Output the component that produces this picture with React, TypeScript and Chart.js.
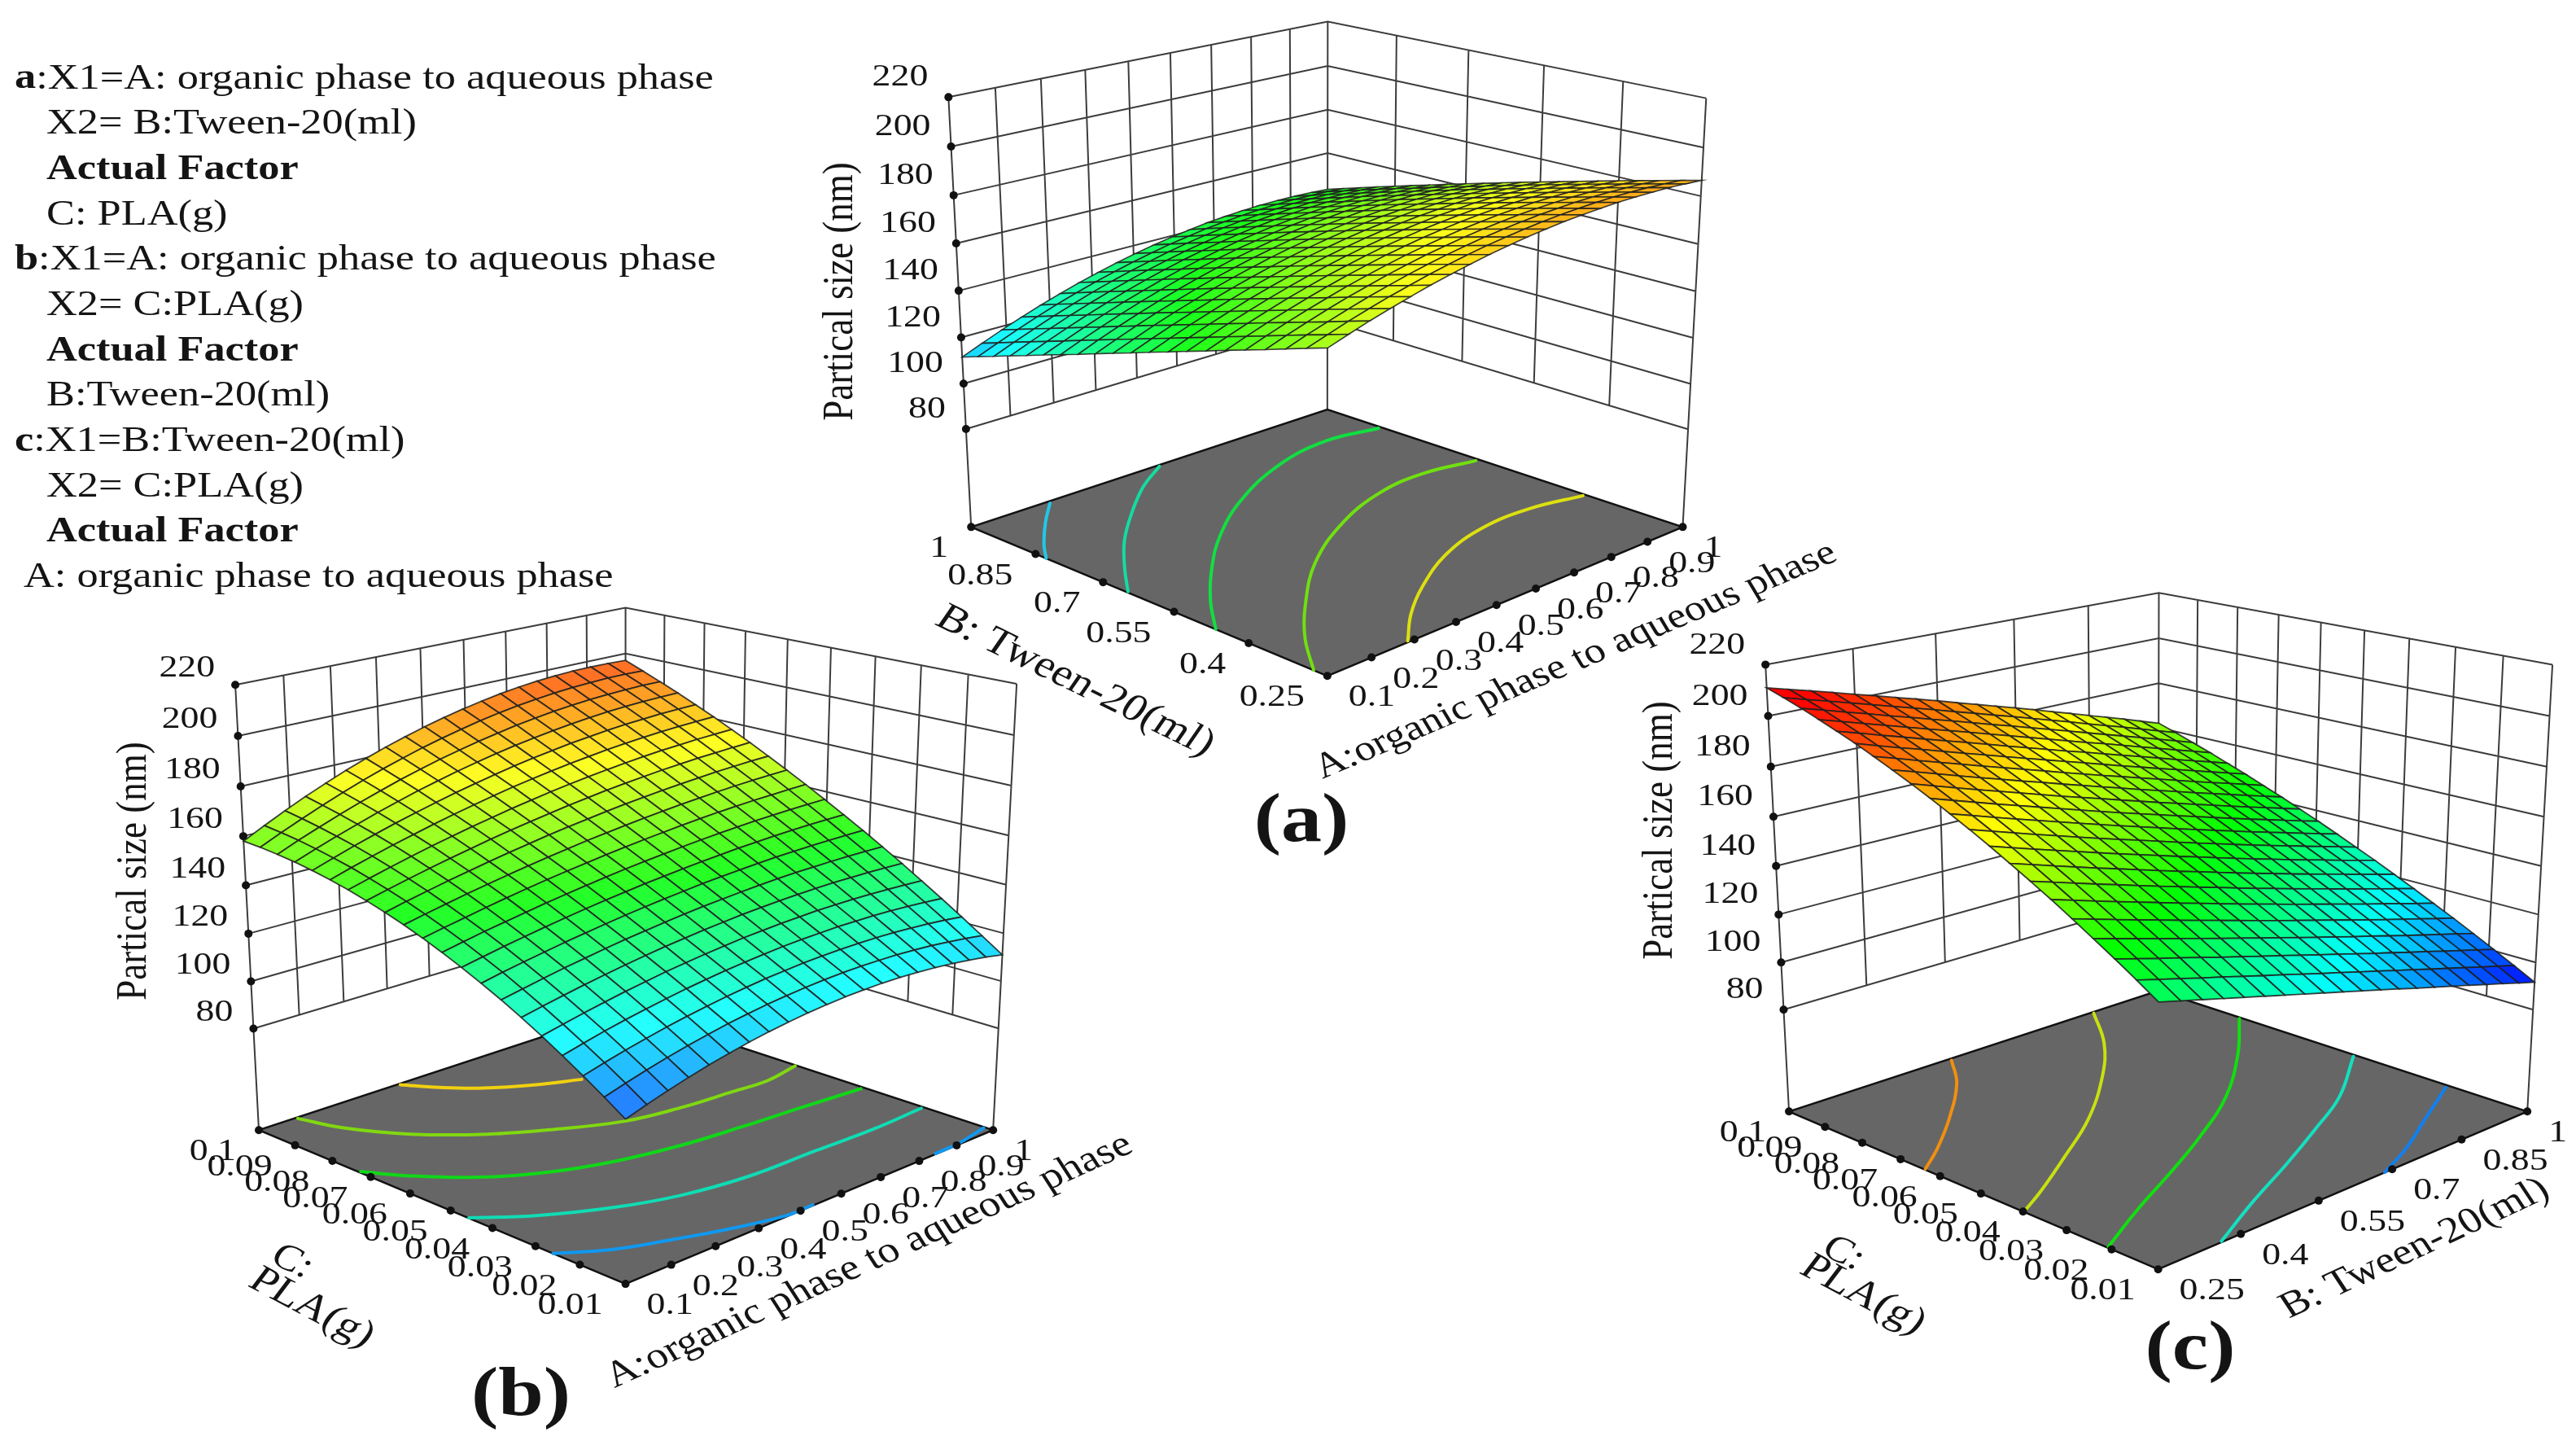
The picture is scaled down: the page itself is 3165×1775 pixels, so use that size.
import React, { useEffect, useRef } from "react";
import { Chart, registerables } from "chart.js";
Chart.register(...registerables);

const LEGEND_LINES = [
  ["a", ":X1=A: organic phase to aqueous phase"],
  ["", "X2= B:Tween-20(ml)"],
  ["Actual Factor", ""],
  ["", "C: PLA(g)"],
  ["b", ":X1=A: organic phase to aqueous phase"],
  ["", "X2= C:PLA(g)"],
  ["Actual Factor", ""],
  ["", "B:Tween-20(ml)"],
  ["c", ":X1=B:Tween-20(ml)"],
  ["", "X2= C:PLA(g)"],
  ["Actual Factor", ""],
  ["", "A: organic phase to aqueous phase"],
];
const Z_TICKS = [80, 100, 120, 140, 160, 180, 200, 220];
const A_TICKS = ["0.1", "0.2", "0.3", "0.4", "0.5", "0.6", "0.7", "0.8", "0.9", "1"];
const B_TICKS = ["0.25", "0.4", "0.55", "0.7", "0.85", "1"];
const C_TICKS = ["0.01", "0.02", "0.03", "0.04", "0.05", "0.06", "0.07", "0.08", "0.09", "0.1"];

// Floor contours, as [fraction along the right-hand factor, fraction along the left-hand factor]
const CONTOUR_COLORS_A = ["#22c8e8", "#14dca0", "#10e040", "#70e010", "#dce010"];
const CONTOURS_A = [
  [[0.0, 0.768], [0.045, 0.829], [0.121, 0.916], [0.194, 0.99]],
  [[0.003, 0.532], [0.075, 0.624], [0.166, 0.729], [0.271, 0.828], [0.389, 0.926], [0.495, 0.994]],
  [[0.0, 0.287], [0.084, 0.392], [0.193, 0.506], [0.318, 0.617], [0.479, 0.728], [0.675, 0.821], [0.85, 0.858], [0.992, 0.834]],
  [[0.0, 0.034], [0.087, 0.144], [0.191, 0.249], [0.352, 0.385], [0.541, 0.496], [0.713, 0.559], [0.854, 0.573], [0.991, 0.547]],
  [[0.209, 0.004], [0.302, 0.084], [0.41, 0.157], [0.56, 0.235], [0.717, 0.279], [0.86, 0.282], [0.993, 0.253]],
];
const CONTOUR_COLORS_B = ["#f0d010", "#80d810", "#10d818", "#10dcb4", "#1098f0", "#1098f0"];
const CONTOURS_B = [
  [[0.355, 0.995], [0.401, 0.927], [0.46, 0.863], [0.548, 0.802], [0.634, 0.759]],
  [[0.092, 0.995], [0.123, 0.893], [0.194, 0.776], [0.298, 0.672], [0.407, 0.599], [0.533, 0.534], [0.661, 0.508], [0.8, 0.496], [0.893, 0.489], [0.997, 0.507]],
  [[0.004, 0.7], [0.051, 0.625], [0.14, 0.525], [0.244, 0.454], [0.37, 0.403], [0.518, 0.37], [0.674, 0.353], [0.828, 0.341], [0.991, 0.326]],
  [[0.001, 0.397], [0.093, 0.319], [0.216, 0.248], [0.343, 0.201], [0.495, 0.175], [0.678, 0.171], [0.84, 0.166], [0.993, 0.172]],
  [[0.0, 0.178], [0.086, 0.117], [0.187, 0.074], [0.293, 0.035], [0.41, 0.003], [0.48, 0.002]],
  [[0.828, 0.002], [0.903, 0.004], [0.996, 0.02]],
];
const CONTOUR_COLORS_C = ["#f09010", "#c8e010", "#10e010", "#14e0c0", "#1080f0"];
const CONTOURS_C = [
  [[0.402, 0.991], [0.325, 0.886], [0.194, 0.756], [0.082, 0.659], [0.002, 0.599]],
  [[0.801, 0.994], [0.69, 0.847], [0.559, 0.715], [0.381, 0.568], [0.222, 0.464], [0.082, 0.377], [0.001, 0.332]],
  [[0.994, 0.752], [0.838, 0.609], [0.647, 0.461], [0.462, 0.353], [0.306, 0.274], [0.145, 0.197], [0.004, 0.123]],
  [[0.992, 0.433], [0.803, 0.305], [0.645, 0.227], [0.481, 0.151], [0.313, 0.078], [0.155, 0.003]],
  [[0.989, 0.191], [0.834, 0.115], [0.695, 0.046], [0.579, 0.0]],
];

const Z_A = [
  [164.5, 167.2, 169.8, 172.1, 174.3, 176.4, 178.2, 179.9, 181.5, 182.8, 184.0, 185.0, 185.9, 186.5, 187.0, 187.4, 187.5, 187.5, 187.4, 187.0, 186.5],
  [161.9, 164.6, 167.3, 169.7, 172.0, 174.0, 176.0, 177.7, 179.3, 180.7, 181.9, 182.9, 183.8, 184.5, 185.0, 185.4, 185.6, 185.6, 185.4, 185.0, 184.5],
  [159.2, 162.1, 164.7, 167.2, 169.6, 171.7, 173.7, 175.5, 177.1, 178.5, 179.8, 180.8, 181.7, 182.5, 183.0, 183.4, 183.6, 183.6, 183.4, 183.1, 182.5],
  [156.5, 159.5, 162.2, 164.8, 167.2, 169.3, 171.4, 173.2, 174.9, 176.3, 177.6, 178.7, 179.6, 180.4, 180.9, 181.3, 181.5, 181.5, 181.4, 181.0, 180.5],
  [153.9, 156.9, 159.7, 162.3, 164.7, 167.0, 169.0, 170.9, 172.6, 174.1, 175.4, 176.6, 177.5, 178.3, 178.9, 179.3, 179.5, 179.5, 179.3, 179.0, 178.5],
  [151.3, 154.3, 157.2, 159.8, 162.3, 164.6, 166.7, 168.6, 170.4, 171.9, 173.3, 174.4, 175.4, 176.2, 176.8, 177.2, 177.4, 177.4, 177.3, 176.9, 176.4],
  [148.6, 151.7, 154.6, 157.3, 159.9, 162.2, 164.4, 166.3, 168.1, 169.7, 171.0, 172.2, 173.2, 174.0, 174.7, 175.1, 175.3, 175.4, 175.2, 174.9, 174.3],
  [146.0, 149.1, 152.1, 154.8, 157.4, 159.8, 162.0, 164.0, 165.8, 167.4, 168.8, 170.0, 171.0, 171.9, 172.5, 173.0, 173.2, 173.2, 173.1, 172.8, 172.2],
  [143.3, 146.5, 149.5, 152.3, 155.0, 157.4, 159.6, 161.7, 163.5, 165.1, 166.6, 167.8, 168.8, 169.7, 170.3, 170.8, 171.1, 171.1, 171.0, 170.6, 170.1],
  [140.7, 143.9, 147.0, 149.8, 152.5, 155.0, 157.2, 159.3, 161.2, 162.8, 164.3, 165.6, 166.6, 167.5, 168.2, 168.6, 168.9, 169.0, 168.8, 168.5, 168.0],
  [138.0, 141.3, 144.4, 147.3, 150.0, 152.5, 154.8, 156.9, 158.8, 160.5, 162.0, 163.3, 164.4, 165.3, 165.9, 166.4, 166.7, 166.8, 166.7, 166.3, 165.8],
  [135.4, 138.7, 141.9, 144.8, 147.5, 150.1, 152.4, 154.5, 156.5, 158.2, 159.7, 161.0, 162.1, 163.0, 163.7, 164.2, 164.5, 164.6, 164.5, 164.1, 163.6],
  [132.7, 136.1, 139.3, 142.3, 145.0, 147.6, 150.0, 152.1, 154.1, 155.8, 157.4, 158.7, 159.8, 160.7, 161.5, 162.0, 162.3, 162.4, 162.2, 161.9, 161.4],
  [130.0, 133.5, 136.7, 139.7, 142.5, 145.1, 147.5, 149.7, 151.7, 153.4, 155.0, 156.4, 157.5, 158.4, 159.2, 159.7, 160.0, 160.1, 160.0, 159.7, 159.2],
  [127.4, 130.9, 134.1, 137.2, 140.0, 142.6, 145.1, 147.3, 149.3, 151.1, 152.6, 154.0, 155.2, 156.1, 156.9, 157.4, 157.7, 157.8, 157.7, 157.4, 156.9],
  [124.8, 128.2, 131.5, 134.6, 137.5, 140.1, 142.6, 144.8, 146.8, 148.6, 150.3, 151.6, 152.8, 153.8, 154.5, 155.1, 155.4, 155.6, 155.5, 155.2, 154.7],
  [122.1, 125.6, 128.9, 132.0, 134.9, 137.6, 140.1, 142.3, 144.4, 146.2, 147.8, 149.2, 150.4, 151.4, 152.2, 152.8, 153.1, 153.2, 153.2, 152.9, 152.4],
  [119.5, 123.0, 126.3, 129.5, 132.4, 135.1, 137.6, 139.9, 141.9, 143.8, 145.4, 146.8, 148.0, 149.0, 149.8, 150.4, 150.8, 150.9, 150.8, 150.6, 150.1],
  [116.8, 120.4, 123.7, 126.9, 129.8, 132.6, 135.1, 137.4, 139.4, 141.3, 143.0, 144.4, 145.6, 146.6, 147.4, 148.0, 148.4, 148.5, 148.5, 148.2, 147.7],
  [114.2, 117.7, 121.1, 124.3, 127.3, 130.0, 132.5, 134.8, 136.9, 138.8, 140.5, 141.9, 143.2, 144.2, 145.0, 145.6, 146.0, 146.2, 146.1, 145.9, 145.4],
  [111.5, 115.1, 118.5, 121.7, 124.7, 127.4, 130.0, 132.3, 134.4, 136.3, 138.0, 139.5, 140.7, 141.8, 142.6, 143.2, 143.6, 143.8, 143.7, 143.5, 143.0],
];
const Z_B = [
  [99.5, 102.1, 104.5, 106.7, 108.7, 110.4, 112.0, 113.3, 114.4, 115.3, 116.0, 116.5, 116.7, 116.8, 116.6, 116.2, 115.6, 114.8, 113.7, 112.5, 111.0],
  [104.9, 107.3, 109.5, 111.5, 113.3, 114.9, 116.4, 117.6, 118.7, 119.5, 120.2, 120.7, 121.0, 121.1, 121.0, 120.8, 120.3, 119.7, 118.8, 117.8, 116.6],
  [110.1, 112.3, 114.3, 116.1, 117.8, 119.3, 120.6, 121.8, 122.8, 123.7, 124.3, 124.9, 125.2, 125.4, 125.4, 125.3, 125.0, 124.5, 123.9, 123.1, 122.1],
  [115.0, 117.0, 118.9, 120.6, 122.1, 123.5, 124.8, 125.9, 126.9, 127.7, 128.4, 129.0, 129.4, 129.6, 129.8, 129.7, 129.6, 129.3, 128.8, 128.2, 127.5],
  [119.7, 121.5, 123.2, 124.8, 126.3, 127.6, 128.9, 129.9, 130.9, 131.7, 132.5, 133.0, 133.5, 133.8, 134.1, 134.1, 134.1, 133.9, 133.6, 133.2, 132.7],
  [124.1, 125.8, 127.4, 128.9, 130.3, 131.6, 132.8, 133.9, 134.8, 135.7, 136.4, 137.1, 137.6, 138.0, 138.3, 138.5, 138.6, 138.5, 138.4, 138.1, 137.8],
  [128.2, 129.8, 131.4, 132.9, 134.2, 135.5, 136.7, 137.7, 138.7, 139.6, 140.4, 141.0, 141.6, 142.1, 142.5, 142.8, 142.9, 143.0, 143.0, 142.9, 142.7],
  [132.0, 133.7, 135.2, 136.6, 138.0, 139.2, 140.4, 141.5, 142.5, 143.4, 144.2, 145.0, 145.6, 146.1, 146.6, 147.0, 147.2, 147.4, 147.5, 147.5, 147.5],
  [135.6, 137.2, 138.8, 140.2, 141.6, 142.9, 144.1, 145.2, 146.2, 147.2, 148.0, 148.8, 149.5, 150.1, 150.7, 151.1, 151.5, 151.8, 152.0, 152.1, 152.1],
  [138.9, 140.6, 142.2, 143.6, 145.0, 146.4, 147.6, 148.8, 149.9, 150.9, 151.8, 152.6, 153.4, 154.1, 154.7, 155.2, 155.7, 156.0, 156.3, 156.5, 156.6],
  [142.0, 143.7, 145.3, 146.9, 148.4, 149.8, 151.1, 152.3, 153.4, 154.5, 155.5, 156.4, 157.2, 158.0, 158.7, 159.3, 159.8, 160.2, 160.5, 160.8, 161.0],
  [144.8, 146.6, 148.3, 150.0, 151.5, 153.0, 154.4, 155.7, 156.9, 158.1, 159.1, 160.1, 161.0, 161.8, 162.6, 163.2, 163.8, 164.3, 164.7, 165.0, 165.2],
  [147.3, 149.3, 151.1, 152.9, 154.5, 156.1, 157.6, 159.0, 160.4, 161.6, 162.7, 163.8, 164.8, 165.6, 166.4, 167.1, 167.7, 168.3, 168.7, 169.1, 169.3],
  [149.6, 151.7, 153.7, 155.6, 157.4, 159.1, 160.8, 162.3, 163.7, 165.0, 166.3, 167.4, 168.5, 169.4, 170.2, 171.0, 171.6, 172.2, 172.6, 173.0, 173.3],
  [151.6, 153.9, 156.1, 158.2, 160.2, 162.0, 163.8, 165.4, 167.0, 168.4, 169.8, 171.0, 172.1, 173.1, 174.0, 174.8, 175.5, 176.0, 176.5, 176.8, 177.1],
  [153.3, 155.9, 158.3, 160.6, 162.7, 164.8, 166.7, 168.5, 170.2, 171.8, 173.2, 174.5, 175.7, 176.7, 177.7, 178.5, 179.2, 179.8, 180.2, 180.5, 180.8],
  [154.8, 157.6, 160.3, 162.8, 165.2, 167.4, 169.5, 171.5, 173.3, 175.0, 176.6, 178.0, 179.2, 180.4, 181.3, 182.2, 182.9, 183.4, 183.9, 184.1, 184.3],
  [156.0, 159.1, 162.0, 164.8, 167.5, 169.9, 172.3, 174.4, 176.4, 178.2, 179.9, 181.4, 182.7, 183.9, 184.9, 185.8, 186.5, 187.0, 187.4, 187.6, 187.7],
  [156.9, 160.4, 163.6, 166.7, 169.6, 172.3, 174.9, 177.2, 179.4, 181.3, 183.1, 184.7, 186.2, 187.4, 188.5, 189.3, 190.0, 190.5, 190.8, 191.0, 190.9],
  [157.6, 161.4, 165.0, 168.4, 171.6, 174.6, 177.4, 179.9, 182.3, 184.4, 186.3, 188.1, 189.6, 190.9, 191.9, 192.8, 193.5, 193.9, 194.2, 194.2, 194.0],
  [158.0, 162.2, 166.2, 170.0, 173.5, 176.8, 179.8, 182.6, 185.1, 187.4, 189.5, 191.3, 192.9, 194.3, 195.4, 196.3, 196.9, 197.3, 197.4, 197.3, 197.0],
];
const Z_C = [
  [136.0, 133.8, 131.6, 129.4, 127.2, 125.0, 122.8, 120.6, 118.4, 116.2, 114.0, 111.8, 109.6, 107.3, 105.1, 102.9, 100.7, 98.4, 96.2, 93.9, 91.7],
  [141.3, 139.0, 136.7, 134.4, 132.2, 129.9, 127.6, 125.4, 123.1, 120.8, 118.6, 116.3, 114.1, 111.8, 109.6, 107.3, 105.1, 102.9, 100.6, 98.4, 96.2],
  [146.4, 144.0, 141.6, 139.3, 137.0, 134.6, 132.3, 130.0, 127.7, 125.4, 123.1, 120.8, 118.5, 116.2, 114.0, 111.7, 109.5, 107.2, 105.0, 102.8, 100.6],
  [151.3, 148.9, 146.4, 144.0, 141.6, 139.2, 136.8, 134.5, 132.1, 129.8, 127.4, 125.1, 122.8, 120.5, 118.3, 116.0, 113.7, 111.5, 109.3, 107.1, 104.9],
  [156.1, 153.6, 151.1, 148.6, 146.2, 143.7, 141.3, 138.9, 136.5, 134.1, 131.7, 129.4, 127.1, 124.8, 122.5, 120.2, 117.9, 115.7, 113.5, 111.2, 109.1],
  [160.8, 158.2, 155.6, 153.1, 150.6, 148.1, 145.6, 143.2, 140.7, 138.3, 135.9, 133.6, 131.2, 128.9, 126.6, 124.3, 122.0, 119.8, 117.5, 115.3, 113.1],
  [165.2, 162.6, 160.0, 157.4, 154.9, 152.3, 149.8, 147.4, 144.9, 142.5, 140.0, 137.6, 135.3, 132.9, 130.6, 128.3, 126.0, 123.8, 121.5, 119.3, 117.1],
  [169.5, 166.9, 164.2, 161.6, 159.0, 156.5, 153.9, 151.4, 148.9, 146.5, 144.0, 141.6, 139.2, 136.9, 134.5, 132.2, 129.9, 127.7, 125.4, 123.2, 121.0],
  [173.7, 171.0, 168.3, 165.7, 163.1, 160.5, 157.9, 155.4, 152.9, 150.4, 148.0, 145.5, 143.1, 140.7, 138.4, 136.0, 133.7, 131.5, 129.2, 127.0, 124.8],
  [177.7, 175.0, 172.3, 169.6, 167.0, 164.4, 161.8, 159.3, 156.8, 154.3, 151.8, 149.3, 146.9, 144.5, 142.1, 139.8, 137.5, 135.2, 132.9, 130.7, 128.4],
  [181.5, 178.8, 176.1, 173.4, 170.8, 168.2, 165.6, 163.0, 160.5, 158.0, 155.5, 153.0, 150.6, 148.2, 145.8, 143.4, 141.1, 138.8, 136.5, 134.2, 132.0],
  [185.2, 182.5, 179.8, 177.1, 174.5, 171.9, 169.3, 166.7, 164.1, 161.6, 159.1, 156.7, 154.2, 151.8, 149.4, 147.0, 144.6, 142.3, 140.0, 137.7, 135.5],
  [188.7, 186.0, 183.3, 180.6, 178.0, 175.4, 172.8, 170.2, 167.7, 165.2, 162.7, 160.2, 157.7, 155.3, 152.9, 150.5, 148.1, 145.7, 143.4, 141.1, 138.8],
  [192.0, 189.4, 186.7, 184.0, 181.4, 178.8, 176.2, 173.7, 171.1, 168.6, 166.1, 163.6, 161.1, 158.7, 156.3, 153.8, 151.5, 149.1, 146.7, 144.4, 142.1],
  [195.2, 192.6, 189.9, 187.3, 184.7, 182.1, 179.6, 177.0, 174.5, 171.9, 169.4, 166.9, 164.5, 162.0, 159.6, 157.1, 154.7, 152.3, 150.0, 147.6, 145.2],
  [198.3, 195.6, 193.0, 190.5, 187.9, 185.3, 182.8, 180.2, 177.7, 175.2, 172.7, 170.2, 167.7, 165.2, 162.8, 160.3, 157.9, 155.5, 153.1, 150.7, 148.3],
  [201.1, 198.6, 196.0, 193.5, 190.9, 188.4, 185.9, 183.4, 180.8, 178.3, 175.8, 173.3, 170.9, 168.4, 165.9, 163.5, 161.0, 158.5, 156.1, 153.7, 151.2],
  [203.8, 201.3, 198.8, 196.3, 193.8, 191.3, 188.9, 186.4, 183.9, 181.4, 178.9, 176.4, 173.9, 171.4, 169.0, 166.5, 164.0, 161.5, 159.0, 156.6, 154.1],
  [206.4, 204.0, 201.5, 199.1, 196.6, 194.2, 191.7, 189.3, 186.8, 184.3, 181.9, 179.4, 176.9, 174.4, 171.9, 169.4, 166.9, 164.4, 161.9, 159.4, 156.8],
  [208.8, 206.4, 204.1, 201.7, 199.3, 196.9, 194.5, 192.1, 189.6, 187.2, 184.7, 182.3, 179.8, 177.3, 174.8, 172.2, 169.7, 167.2, 164.6, 162.0, 159.5],
  [211.0, 208.7, 206.5, 204.2, 201.8, 199.5, 197.1, 194.8, 192.4, 189.9, 187.5, 185.0, 182.6, 180.1, 177.5, 175.0, 172.4, 169.9, 167.3, 164.6, 162.0],
];

const LEGEND_X = [18, 57, 57, 57, 18, 57, 57, 57, 18, 57, 57, 29];
const STOPS: [number, number[]][] = [[91, [0, 0, 255]], [119, [0, 255, 255]], [147, [0, 255, 0]], [175, [255, 255, 0]], [207, [255, 0, 0]]];
function cmapRgb(z: number) {
  if (z <= STOPS[0][0]) return [0, 0, 255];
  for (let i = 1; i < STOPS.length; i++) {
    if (z <= STOPS[i][0]) {
      const t = (z - STOPS[i - 1][0]) / (STOPS[i][0] - STOPS[i - 1][0]);
      const a = STOPS[i - 1][1], b = STOPS[i][1];
      return a.map((v, k) => v + (b[k] - v) * t);
    }
  }
  return [255, 0, 0];
}
function cmap(z: number, lift = 0) {
  return `rgb(${cmapRgb(z).map((v) => Math.round(v * (1 - lift) + 255 * lift)).join(",")})`;
}

const PANELS: any[] = [
  {
    z: Z_A, contours: CONTOURS_A, colors: CONTOUR_COLORS_A, uTicks: A_TICKS, vTicks: B_TICKS, lift: 0.1, mesh: 1.6, zLabelDy: -24,
    front: [1631, 830], right: [2069, 646], back: [1631, 501], left: [1192, 646], leftTop: [1164, 115], rightTop: [2098, 115],
  },
  {
    z: Z_B, contours: CONTOURS_B, colors: CONTOUR_COLORS_B, uTicks: A_TICKS, vTicks: C_TICKS, lift: 0.14, mesh: 1.8, zLabelDy: -20,
    front: [766, 1581], right: [1219, 1391], back: [766, 1242], left: [314, 1391], leftTop: [285, 841], rightTop: [1248, 841],
  },
  {
    z: Z_C, contours: CONTOURS_C, colors: CONTOUR_COLORS_C, uTicks: B_TICKS, vTicks: C_TICKS, lift: 0, mesh: 1.8, zLabelDy: -24,
    front: [2655, 1563], right: [3110, 1368], back: [2655, 1219], left: [2200, 1368], leftTop: [2171, 816], rightTop: [3141, 816],
  },
];
const Z_FLOOR = 36;
const Z_TOP = 220;

function makeProjector(p: any) {
  const [x0, y0] = p.front, [x1, y1] = p.right, [x2, y2] = p.back, [x3, y3] = p.left;
  const dx1 = x1 - x2, dx2 = x3 - x2, sx = x0 - x1 + x2 - x3;
  const dy1 = y1 - y2, dy2 = y3 - y2, sy = y0 - y1 + y2 - y3;
  const den = dx1 * dy2 - dx2 * dy1;
  const g = (sx * dy2 - dx2 * sy) / den, h = (dx1 * sy - sx * dy1) / den;
  const a = x1 - x0 + g * x1, b = x3 - x0 + h * x3, c = x0;
  const d = y1 - y0 + g * y1, e = y3 - y0 + h * y3, f = y0;
  const lx = p.leftTop[0] - x3, ly = p.leftTop[1] - y3, rx = p.rightTop[0] - x1, ry = p.rightTop[1] - y1;
  const t = ((x1 - x3) * ry - (y1 - y3) * rx) / (lx * ry - ly * rx);
  const vx = x3 + lx * t, vy = y3 + ly * t;
  const h0 = h + 1;
  const s = (h0 * (p.leftTop[1] - y3)) / (vy - p.leftTop[1]);
  return (u: number, v: number, z: number) => {
    const w = (z - Z_FLOOR) / (Z_TOP - Z_FLOOR);
    const q = g * u + h * v + 1 + w * s;
    return { x: (a * u + b * v + c + w * s * vx) / q, y: (d * u + e * v + f + w * s * vy) / q };
  };
}
const GAP = { x: null, y: null };

function buildPanel(p: any) {
  const P = makeProjector(p);
  const N = p.z.length - 1;
  const layers: any[] = [];
  const wall: any[] = [];
  const nu = p.uTicks.length - 1, nv = p.vTicks.length - 1;
  const zMin = Z_TICKS[0];
  for (const z of Z_TICKS) {
    wall.push(P(0, 1, z), P(1, 1, z), P(1, 0, z), GAP);
  }
  for (let i = 0; i <= nu; i++) wall.push(P(i / nu, 1, Z_TOP), P(i / nu, 1, i === 0 || i === nu ? Z_FLOOR : zMin), GAP);
  for (let j = 0; j < nv; j++) wall.push(P(1, j / nv, Z_TOP), P(1, j / nv, j === 0 ? Z_FLOOR : zMin), GAP);
  wall.push(P(0, 1, Z_TOP), P(1, 1, Z_TOP), P(1, 0, Z_TOP), GAP);
  layers.push({ data: wall, borderColor: "#3c3c3c", borderWidth: 2 });
  layers.push({ data: [P(0, 0, Z_FLOOR), P(1, 0, Z_FLOOR), P(1, 1, Z_FLOOR), P(0, 1, Z_FLOOR), P(0, 0, Z_FLOOR)], borderColor: "#111", borderWidth: 2.5, fill: "shape", backgroundColor: "#666666" });
  p.contours.forEach((pts: number[][], n: number) => {
    layers.push({ data: pts.map(([u, v]) => P(u, v, Z_FLOOR)), borderColor: p.colors[n], borderWidth: 4, tension: 0.4, borderCapStyle: "round" });
  });
  const dots: any[] = [];
  for (let i = 0; i <= nu; i++) dots.push(P(i / nu, 0, Z_FLOOR));
  for (let j = 1; j <= nv; j++) dots.push(P(0, j / nv, Z_FLOOR));
  for (const z of Z_TICKS) dots.push(P(0, 1, z));
  layers.push({ data: dots, showLine: false, pointRadius: 5, pointBackgroundColor: "#111", pointBorderWidth: 0 });
  for (let j = N - 1; j >= 0; j--) for (let i = N - 1; i >= 0; i--) {
    const zc = (p.z[j][i] + p.z[j][i + 1] + p.z[j + 1][i] + p.z[j + 1][i + 1]) / 4;
    layers.push({
      data: [P(i / N, j / N, p.z[j][i]), P((i + 1) / N, j / N, p.z[j][i + 1]), P((i + 1) / N, (j + 1) / N, p.z[j + 1][i + 1]), P(i / N, (j + 1) / N, p.z[j + 1][i]), P(i / N, j / N, p.z[j][i])],
      borderColor: "rgba(30,30,30,0.85)", borderWidth: p.mesh, fill: "shape", backgroundColor: cmap(zc, p.lift),
    });
  }
  return { layers, P };
}

const SERIF = "'Liberation Serif'";
const STRETCH = 1.19;
function put(ctx: any, s: string, x: number, y: number, size: number, align: string, angle = 0, bold = false) {
  ctx.save();
  ctx.translate(x, y);
  ctx.scale(STRETCH, 1);
  ctx.rotate(Math.atan2(Math.sin(angle) * STRETCH, Math.cos(angle)));
  ctx.font = `${bold ? "bold " : ""}${size}px ${SERIF}`;
  ctx.textAlign = align;
  ctx.textBaseline = "middle";
  ctx.fillStyle = "#141414";
  ctx.fillText(s, 0, 0);
  ctx.restore();
}
const D = Math.PI / 180;
const TITLES: any[] = [
  ["Partical size (nm)", 1033, 358, 45, -90], ["B: Tween-20(ml)", 1321, 837, 47, 26], ["A:organic phase to aqueous phase", 1936, 812, 44, -23],
  ["Partical size (nm)", 165, 1070, 45, -90], ["C:", 359, 1550, 45, 25], ["PLA(g)", 383, 1607, 47, 28], ["A:organic phase to aqueous phase", 1068, 1549, 45, -24.5],
  ["Partical size (nm)", 2040, 1020, 45, -90], ["C:", 2265, 1540, 45, 25], ["PLA(g)", 2289, 1591, 47, 28], ["B: Tween-20(ml)", 2967, 1534, 45, -25],
];
const PANEL_TAGS: any[] = [["(a)", 1599, 1011], ["(b)", 640, 1716], ["(c)", 2691, 1659]];

export default function App() {
  const ref = useRef<HTMLCanvasElement>(null);
  useEffect(() => {
    const built = PANELS.map(buildPanel);
    const all = built.flatMap((b) => b.layers).map((d) => ({ pointRadius: 0, borderCapStyle: "butt", tension: 0, spanGaps: false, ...d }));
    all.reverse();
    const textPlugin = {
      id: "texts",
      afterDatasetsDraw(chart: any) {
        const { ctx } = chart;
        const X = (v: number) => chart.scales.x.getPixelForValue(v), Y = (v: number) => chart.scales.y.getPixelForValue(v);
        LEGEND_LINES.forEach(([b, t], i) => {
          const y = 97 + i * 55.7;
          let x = LEGEND_X[i];
          if (b) {
            put(ctx, b, x, y, 44, "left", 0, true);
            ctx.save(); ctx.font = `bold 44px ${SERIF}`; x += ctx.measureText(b).width * STRETCH; ctx.restore();
          }
          if (t) put(ctx, t, x, y, 44, "left");
        });
        PANELS.forEach((p, k) => {
          const P = built[k].P;
          const nu = p.uTicks.length - 1, nv = p.vTicks.length - 1;
          p.uTicks.forEach((s: string, i: number) => { const q = P(i / nu, 0, Z_FLOOR); put(ctx, s, X(q.x) + 26, Y(q.y) + 27, 38.5, "left"); });
          p.vTicks.forEach((s: string, j: number) => { const q = P(0, j / nv, Z_FLOOR); put(ctx, s, X(q.x) - 28, Y(q.y) + 27, 38.5, "right"); });
          Z_TICKS.forEach((z) => { const q = P(0, 1, z); put(ctx, String(z), X(q.x) - 25, Y(q.y) + p.zLabelDy, 38.5, "right"); });
        });
        TITLES.forEach(([s, x, y, f, a]) => put(ctx, s, x, y, f, "center", a * D));
        PANEL_TAGS.forEach(([s, x, y]) => put(ctx, s, x, y, 84, "center", 0, true));
      },
    };
    const chart = new Chart(ref.current as any, {
      type: "line",
      data: { datasets: all as any },
      options: {
        animation: false, responsive: false,
        layout: { padding: 0 },
        plugins: { legend: { display: false }, tooltip: { enabled: false }, title: { display: false } },
        scales: {
          x: { type: "linear", min: 0, max: 3165, display: false },
          y: { type: "linear", min: 0, max: 1775, reverse: true, display: false },
        },
      },
      plugins: [textPlugin],
    } as any);
    return () => chart.destroy();
  }, []);
  return (
    <div style={{ position: "absolute", left: 0, top: 0, width: 3165, height: 1775, background: "#fff" }}>
      <canvas ref={ref} width={3165} height={1775} style={{ display: "block" }} />
    </div>
  );
}
